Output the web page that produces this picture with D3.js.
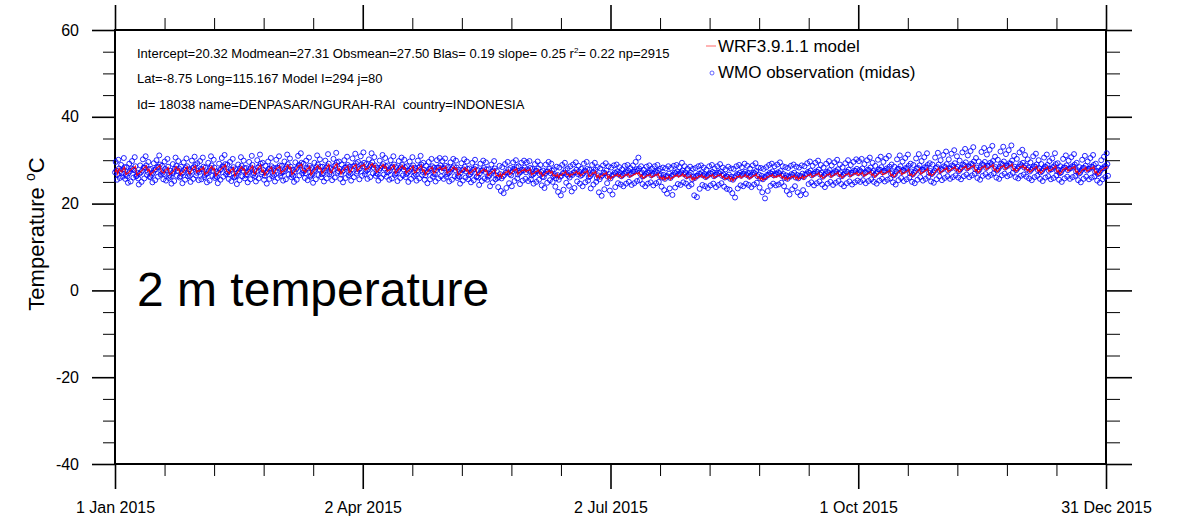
<!DOCTYPE html>
<html>
<head>
<meta charset="utf-8">
<script src="https://cdn.jsdelivr.net/npm/d3@7"></script>
<style>
  body { margin: 0; background: #fff; }
  svg { display: block; font-family: "Liberation Sans", Arial, sans-serif; }
</style>
</head>
<body>
<svg id="chart"></svg>
<script>
// Temperature in tenths of a degree C
// obs: 4 readings per day (00, 06, 12, 18 UTC), model: 2 per day (00, 12 UTC)
const obsJan = [
  272,296,276,255, 268,301,281,259, 275,289,270,262, 279,305,284,257, 266,284,263,248,
  270,292,275,251, 281,298,279,260, 277,307,286,263, 264,271,258,244, 269,288,272,250,
  276,302,283,258, 283,309,288,266, 273,296,279,261, 262,280,266,249, 271,293,277,254,
  279,300,284,262, 285,311,290,267, 274,287,271,256, 268,297,280,253, 277,303,285,259,
  265,276,262,246, 270,291,274,252, 280,306,287,264, 276,298,281,260, 263,285,269,247,
  272,295,278,255, 282,304,286,263, 269,279,264,250, 275,299,282,257, 284,308,289,265,
  271,293,276,254
];
const obsFeb = [
  273,298,280,256, 279,306,285,261, 266,283,268,249, 270,294,276,253, 282,309,288,264,
  276,301,283,259, 264,274,261,247, 271,292,277,255, 280,305,286,262, 285,312,291,268,
  274,290,272,257, 267,296,279,252, 278,303,284,260, 262,279,264,245, 271,290,275,254,
  281,307,287,263, 276,299,282,258, 265,282,267,249, 273,296,279,256, 283,310,289,266,
  270,277,263,251, 275,300,283,258, 286,313,292,268, 272,294,277,255, 264,287,271,246,
  274,297,280,257, 281,305,286,263, 269,282,266,251
];
const obsMar = [
  276,301,283,259, 282,309,288,264, 270,287,272,253, 274,297,280,256, 285,313,291,267,
  279,304,285,261, 267,278,264,250, 273,295,279,255, 283,310,289,265, 288,316,294,270,
  277,292,275,259, 270,299,282,254, 281,306,287,262, 265,282,268,248, 274,294,278,256,
  284,311,290,266, 279,302,285,261, 268,285,270,251, 276,299,282,258, 286,314,292,268,
  273,281,267,254, 278,303,286,260, 289,317,295,271, 275,297,280,257, 267,290,274,249,
  277,300,283,259, 284,308,289,265, 272,285,269,253, 279,304,286,261, 287,315,293,269,
  274,296,279,256
];
const obsApr = [
  281,309,290,264, 286,318,294,268, 274,291,276,257, 279,302,285,261, 289,316,295,270,
  283,307,288,264, 270,283,268,253, 277,299,282,259, 286,312,291,267, 281,305,286,262,
  272,288,274,255, 276,300,283,258, 285,309,290,266, 269,284,270,252, 277,298,281,259,
  284,306,289,265, 279,301,284,261, 268,286,271,250, 275,297,280,257, 283,307,288,264,
  271,282,267,253, 276,299,283,258, 285,310,290,266, 273,294,278,255, 265,287,272,247,
  274,296,280,256, 281,303,286,262, 269,283,268,251, 277,300,283,258, 283,305,288,263
];
const obsMay = [
  275,298,282,257, 281,304,287,262, 268,284,270,251, 273,295,279,255, 282,303,286,263,
  277,299,283,259, 264,278,262,246, 271,293,277,253, 279,302,285,260, 274,297,280,256,
  266,281,268,249, 272,294,278,254, 280,301,285,261, 263,277,260,243, 270,292,276,252,
  277,299,282,258, 273,295,279,255, 262,279,264,240, 269,290,274,249, 276,298,281,256,
  265,275,259,238, 261,287,268,229, 258,284,263,224, 266,291,272,236, 272,296,279,247,
  268,282,265,240, 274,295,280,252, 278,300,284,258, 267,286,271,245, 273,294,278,253,
  277,299,283,257
];
const obsJun = [
  272,295,279,252, 276,298,282,256, 265,280,267,246, 270,291,276,250, 275,297,281,255,
  268,289,273,242, 262,276,261,236, 269,290,274,248, 274,296,280,254, 270,292,276,250,
  263,279,265,239, 258,285,266,227, 255,283,262,219, 264,289,270,232, 271,294,277,248,
  267,281,264,241, 260,286,268,228, 266,290,272,236, 272,295,278,251, 268,287,274,246,
  264,280,266,240, 270,292,276,249, 274,296,280,253, 261,278,263,235, 267,289,273,244,
  272,294,278,250, 259,284,265,226, 256,281,262,218, 265,288,271,233, 270,293,276,247
];
const obsJul = [
  262,286,268,230, 258,283,264,221, 266,288,271,238, 270,290,274,247, 267,284,271,244,
  263,279,266,240, 269,287,273,246, 272,289,276,250, 266,282,269,243, 270,288,274,247,
  274,296,279,252, 276,306,281,254, 268,286,272,245, 263,278,265,240, 268,285,272,246,
  271,288,275,249, 265,281,268,242, 269,286,273,247, 272,289,276,250, 264,280,267,239,
  260,283,266,231, 257,281,263,223, 263,286,269,235, 259,282,264,220, 266,287,271,237,
  270,289,274,245, 267,284,270,243, 272,294,276,249, 268,286,272,246, 263,280,266,240,
  267,285,271,244
];
const obsAug = [
  256,280,262,219, 259,282,264,215, 264,286,269,234, 268,288,272,243, 265,283,268,240,
  261,278,264,236, 266,286,270,242, 269,289,273,246, 263,281,266,238, 267,286,271,243,
  270,291,274,247, 264,283,267,239, 260,279,263,234, 262,285,267,232, 257,281,262,224,
  255,280,260,214, 263,286,268,235, 267,289,271,242, 264,284,268,240, 269,292,273,246,
  266,287,270,243, 262,281,265,238, 267,288,271,244, 270,293,275,248, 263,283,267,237,
  258,282,264,226, 256,280,261,212, 261,284,266,229, 266,289,271,241, 269,292,274,246,
  265,286,269,242
];
const obsSep = [
  267,290,272,244, 270,295,275,248, 264,286,268,240, 259,284,265,229, 257,282,263,221,
  262,287,268,233, 266,290,271,240, 260,285,266,226, 258,283,264,219, 263,288,269,231,
  261,286,267,222, 268,293,273,245, 271,297,276,249, 265,287,269,242, 269,294,274,247,
  273,299,278,251, 267,289,271,244, 262,283,266,238, 268,292,273,246, 272,298,277,250,
  266,288,270,243, 270,295,275,248, 274,301,279,252, 268,290,272,245, 263,284,267,240,
  269,293,274,247, 273,300,278,251, 267,289,271,244, 271,296,276,249, 275,302,280,253
];
const obsOct = [
  270,298,277,250, 274,303,281,254, 268,291,272,247, 272,300,278,252, 277,306,283,256,
  271,294,275,250, 266,287,270,246, 273,301,279,253, 278,308,284,257, 272,296,276,251,
  275,304,281,255, 279,310,285,258, 269,290,272,249, 265,285,268,244, 274,302,280,254,
  280,311,286,259, 273,297,277,252, 276,305,282,256, 281,313,287,260, 270,292,274,250,
  267,289,271,247, 275,304,281,255, 282,314,288,261, 274,298,278,253, 278,307,284,257,
  283,316,289,262, 271,293,275,251, 268,290,272,248, 276,306,282,256, 284,317,290,263,
  275,300,279,254
];
const obsNov = [
  279,312,286,259, 284,320,291,263, 276,302,281,257, 281,315,288,261, 286,323,293,265,
  280,309,285,260, 275,299,279,256, 283,318,290,263, 288,326,295,267, 281,311,286,261,
  285,321,292,265, 290,330,297,269, 279,305,283,259, 274,297,278,255, 284,319,291,264,
  289,328,296,268, 282,313,287,262, 287,324,294,266, 291,333,298,270, 280,308,284,260,
  276,301,280,257, 285,320,292,265, 290,331,297,269, 283,314,288,263, 287,323,293,266,
  292,334,299,271, 281,310,285,261, 277,303,281,258, 285,318,291,264, 288,324,294,267
];
const obsDec = [
  283,312,288,262, 278,302,283,258, 274,295,278,254, 281,309,286,261, 285,315,290,264,
  277,300,281,257, 272,291,275,252, 280,306,285,260, 284,313,289,263, 276,298,280,256,
  279,304,284,259, 286,316,291,265, 275,293,278,255, 270,286,272,250, 278,303,283,258,
  283,311,288,262, 277,299,281,257, 281,307,286,261, 285,314,290,264, 274,294,277,254,
  269,284,271,249, 277,301,282,257, 282,310,287,262, 276,297,280,256, 280,305,285,260,
  284,312,289,263, 273,292,276,253, 268,283,270,248, 276,300,281,256, 281,308,286,261,
  285,316,291,264
];

const modJan = [
  272,279, 268,281, 276,273, 280,284, 267,270, 271,276, 279,282, 283,286, 265,268, 270,274,
  277,281, 284,287, 275,279, 266,270, 273,277, 279,283, 285,288, 274,272, 270,278, 278,283,
  267,269, 271,275, 281,285, 277,280, 266,270, 273,277, 282,285, 270,268, 276,281, 284,287,
  272,276
];
const modFeb = [
  274,280, 279,284, 267,271, 271,277, 282,286, 277,281, 264,267, 272,276, 280,284, 285,289,
  275,273, 269,278, 278,283, 263,267, 272,276, 281,285, 277,280, 266,270, 274,278, 283,287,
  270,268, 276,281, 285,289, 273,277, 265,271, 274,279, 281,284, 269,270
];
const modMar = [
  277,282, 282,287, 270,274, 275,279, 285,289, 280,284, 267,270, 274,278, 283,287, 288,291,
  277,276, 272,280, 281,286, 266,270, 275,279, 284,288, 280,283, 269,273, 277,281, 286,290,
  273,271, 279,284, 289,292, 276,280, 268,274, 277,282, 284,287, 272,273, 280,285, 287,290,
  275,279
];
const modApr = [
  283,288, 287,291, 277,280, 281,285, 289,292, 284,288, 272,274, 279,283, 286,290, 282,286,
  274,277, 278,283, 285,289, 270,273, 278,281, 284,288, 280,283, 270,274, 276,280, 283,287,
  271,272, 277,282, 284,288, 274,278, 266,272, 275,279, 281,284, 270,271, 277,281, 282,285
];
const modMay = [
  277,281, 281,285, 270,273, 274,278, 281,285, 278,281, 266,268, 272,276, 279,283, 275,279,
  268,271, 273,277, 279,282, 265,267, 271,275, 277,280, 274,277, 264,267, 270,273, 276,279,
  264,265, 262,270, 260,268, 267,273, 272,277, 267,269, 273,278, 277,281, 268,272, 273,277,
  276,280
];
const modJun = [
  273,277, 276,280, 266,269, 270,274, 274,278, 268,272, 263,265, 269,273, 273,277, 270,274,
  264,266, 262,268, 259,266, 265,270, 270,275, 266,268, 262,268, 266,271, 271,275, 268,272,
  264,267, 269,273, 272,276, 262,264, 266,271, 270,274, 260,266, 258,264, 264,269, 268,272
];
const modJul = [
  258,264, 256,262, 261,266, 264,268, 262,266, 259,262, 263,267, 265,269, 261,264, 264,268,
  267,271, 268,272, 262,266, 258,261, 262,266, 264,268, 260,263, 263,267, 265,269, 258,261,
  256,262, 254,260, 258,263, 255,260, 260,265, 263,267, 261,264, 264,269, 262,266, 258,261,
  261,265
];
const modAug = [
  254,260, 255,261, 259,264, 262,266, 260,263, 257,260, 261,265, 263,267, 259,262, 262,266,
  264,268, 260,263, 256,259, 258,263, 254,260, 252,258, 258,263, 261,265, 259,262, 263,267,
  261,264, 257,260, 261,265, 264,268, 259,262, 255,260, 253,258, 257,262, 261,265, 263,267,
  260,263
];
const modSep = [
  261,265, 263,267, 259,262, 256,261, 254,260, 258,263, 261,265, 257,262, 255,260, 259,264,
  257,262, 262,266, 265,269, 261,264, 264,268, 267,271, 262,265, 258,261, 263,267, 266,270,
  261,264, 265,269, 268,272, 263,266, 259,262, 264,268, 267,271, 262,265, 266,270, 268,272
];
const modOct = [
  265,269, 268,272, 263,266, 266,270, 270,274, 265,268, 261,264, 267,271, 271,275, 266,269,
  269,273, 273,277, 264,267, 261,264, 268,272, 274,278, 267,270, 270,274, 275,279, 265,268,
  262,266, 269,273, 276,280, 268,271, 272,276, 277,281, 266,269, 264,267, 271,275, 278,282,
  270,273
];
const modNov = [
  275,279, 279,283, 273,276, 277,281, 281,285, 276,279, 272,275, 279,283, 283,287, 277,280,
  281,285, 285,289, 275,278, 271,274, 280,284, 284,288, 278,281, 282,286, 286,290, 276,279,
  273,276, 281,285, 285,289, 279,282, 283,287, 287,291, 277,280, 274,277, 281,285, 284,288
];
const modDec = [
  280,284, 276,279, 272,275, 278,282, 282,286, 275,278, 270,273, 277,281, 281,285, 274,277,
  277,281, 283,287, 273,276, 268,271, 276,280, 280,284, 275,278, 279,283, 282,286, 272,275,
  267,270, 275,279, 279,283, 274,277, 278,282, 281,285, 271,274, 266,269, 274,278, 279,283,
  282,286
];

// Axis ticks
const yTicks = [60, 40, 20, 0, -20, -40];
const xTickLabels = ["1 Jan 2015", "2 Apr 2015", "2 Jul 2015", "1 Oct 2015", "31 Dec 2015"];
const xTickDays = [0, 91, 182, 273, 364];

const statsLines = [
  ["Intercept=20.32 Modmean=27.31 Obsmean=27.50 Blas= 0.19 slope= 0.25 r", "2", "= 0.22 np=2915"],
  ["Lat=-8.75 Long=115.167 Model I=294 j=80"],
  ["Id= 18038 name=DENPASAR/NGURAH-RAI\u00a0 country=INDONESIA"]
];

const width = 1179, height = 519;
const plot = { left: 115, right: 1106, top: 30, bottom: 464 };
const DAY = 864e5;
const t0 = Date.UTC(2015, 0, 1);

const obs = [].concat(obsJan, obsFeb, obsMar, obsApr, obsMay, obsJun,
                      obsJul, obsAug, obsSep, obsOct, obsNov, obsDec)
  .map((v, i) => ({ t: new Date(t0 + i * DAY / 4), v: v / 10 }));
const model = [].concat(modJan, modFeb, modMar, modApr, modMay, modJun,
                        modJul, modAug, modSep, modOct, modNov, modDec)
  .map((v, i) => ({ t: new Date(t0 + i * DAY / 2), v: v / 10 }));

const svg = d3.select('#chart')
  .attr('width', width)
  .attr('height', height);

const x = d3.scaleUtc()
  .domain([new Date(t0), new Date(t0 + 364 * DAY)])
  .range([plot.left, plot.right]);
const y = d3.scaleLinear()
  .domain([-40, 60])
  .range([plot.bottom, plot.top]);

const majorDates = xTickDays.map(d => new Date(t0 + d * DAY));
const minorDates = d3.range(21).filter(k => k % 5).map(k => new Date(t0 + k * 18.2 * DAY));
const minorY = d3.range(-40, 61, 5).filter(v => v % 20);

// one set of ticks; major ones are thicker
function drawAxis(axis, transform, size, major, labelled) {
  const g = svg.append('g')
    .attr('transform', transform)
    .call(axis.tickSize(size).tickSizeOuter(0));
  g.select('.domain').remove();
  g.selectAll('.tick line')
    .attr('stroke', '#000')
    .attr('stroke-width', major ? 1.6 : 1);
  if (!labelled) g.selectAll('.tick text').remove();
  else g.selectAll('.tick text')
    .attr('font-size', 16)
    .attr('fill', '#000')
    .attr('font-family', '"Liberation Sans", Arial, sans-serif');
  return g;
}

// Bottom
drawAxis(d3.axisBottom(x).tickValues(majorDates).tickFormat((d, i) => xTickLabels[i]).tickPadding(13),
  `translate(0,${plot.bottom})`, 25, true, true);
drawAxis(d3.axisBottom(x).tickValues(minorDates), `translate(0,${plot.bottom})`, 12);

// Top
drawAxis(d3.axisTop(x).tickValues(majorDates), `translate(0,${plot.top})`, 25, true);
drawAxis(d3.axisTop(x).tickValues(minorDates), `translate(0,${plot.top})`, 12);

// Left
drawAxis(d3.axisLeft(y).tickValues(yTicks).tickFormat(d => String(d)).tickPadding(13),
  `translate(${plot.left},0)`, 23, true, true);
drawAxis(d3.axisLeft(y).tickValues(minorY), `translate(${plot.left},0)`, 12);

// Right
drawAxis(d3.axisRight(y).tickValues(yTicks), `translate(${plot.right},0)`, 26, true);
drawAxis(d3.axisRight(y).tickValues(minorY), `translate(${plot.right},0)`, 14);

// Frame
svg.append('rect')
  .attr('x', plot.left).attr('y', plot.top)
  .attr('width', plot.right - plot.left)
  .attr('height', plot.bottom - plot.top)
  .attr('fill', 'none')
  .attr('stroke', '#000')
  .attr('stroke-width', 2);

// Observations (open circles)
svg.append('g')
  .selectAll('circle')
  .data(obs)
  .enter()
  .append('circle')
    .attr('cx', d => x(d.t))
    .attr('cy', d => y(d.v))
    .attr('r', 2.5)
    .attr('fill', 'none')
    .attr('stroke', '#0000ff')
    .attr('stroke-width', 0.85);

// Model line
svg.append('path')
  .datum(model)
  .attr('fill', 'none')
  .attr('stroke', '#ff0000')
  .attr('stroke-width', 1.2)
  .attr('stroke-opacity', 0.9)
  .attr('d', d3.line().x(d => x(d.t)).y(d => y(d.v)));

// Stats text
const stats = svg.append('g').attr('font-size', 13).attr('fill', '#000');
statsLines.forEach((parts, i) => {
  const t = stats.append('text').attr('x', 137).attr('y', 57.5 + i * 25.5);
  parts.forEach((p, j) => {
    const span = t.append('tspan').text(p);
    if (parts.length > 1 && j === 1) span.attr('font-size', 8).attr('dy', -5);
    if (parts.length > 1 && j === 2) span.attr('dy', 5);
  });
});

// Legend
svg.append('line')
  .attr('x1', 706).attr('x2', 716).attr('y1', 46).attr('y2', 46)
  .attr('stroke', '#ff8080').attr('stroke-width', 1.2);
svg.append('text').attr('x', 718).attr('y', 52).attr('font-size', 17)
  .text('WRF3.9.1.1 model');
svg.append('circle')
  .attr('cx', 712).attr('cy', 73).attr('r', 2)
  .attr('fill', 'none').attr('stroke', '#4040ff').attr('stroke-width', 0.8);
svg.append('text').attr('x', 718).attr('y', 78).attr('font-size', 17)
  .text('WMO observation (midas)');

// Big title inside the plot
svg.append('text')
  .attr('x', 137).attr('y', 306)
  .attr('font-size', 48)
  .text('2 m temperature');

// Y axis label
const ylab = svg.append('text')
  .attr('transform', 'translate(44,234) rotate(-90)')
  .attr('text-anchor', 'middle')
  .attr('font-size', 22);
ylab.append('tspan').text('Temperature ');
ylab.append('tspan').attr('font-size', 14).attr('dy', -9).text('o');
ylab.append('tspan').attr('dy', 9).text('C');
</script>
</body>
</html>
